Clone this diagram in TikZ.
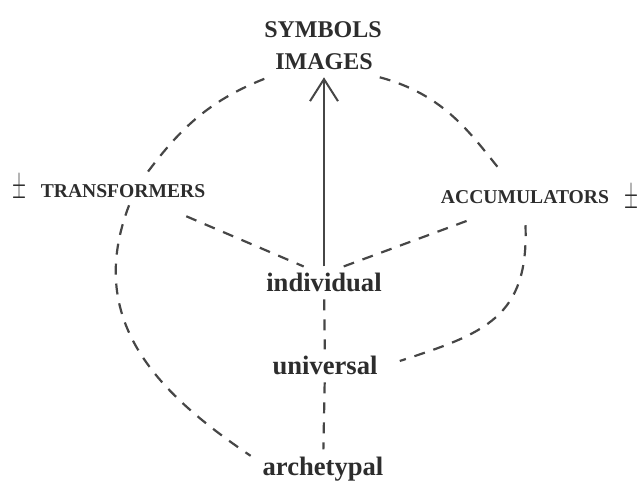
\documentclass[tikz,border=0pt]{standalone}
\usepackage{fontspec}
\setmainfont{Liberation Serif}
\usetikzlibrary{arrows.meta, positioning}
\definecolor{inkdark}{RGB}{45, 45, 45}
\definecolor{inkline}{RGB}{70, 70, 70}

\begin{document}
\begin{tikzpicture}[
    x=0.5pt, y=0.5pt,
    toplabel/.style={font=\fontsize{12}{14}\selectfont\bfseries, text=inkdark, anchor=base},
    pole/.style={font=\fontsize{9.8}{11}\selectfont\bfseries, text=inkdark, anchor=base},
    level/.style={font=\fontsize{13.3}{15}\selectfont\bfseries, text=inkdark, anchor=base},
    sign/.style={font=\fontsize{13}{15}\selectfont, text=inkdark, inner sep=0pt},
    cycle/.style={dashed, dash pattern=on 5.5pt off 4.5pt, line width=1.1pt, inkline},
    arrow/.style={-{Straight Barb[length=11pt, width=14pt, line width=1pt]}, line width=1pt, inkline},
  ]
  \useasboundingbox (0,0) rectangle (637,482);

  % Top
  \node[toplabel] (images) at (324,412) {IMAGES};
  \node[toplabel] (symbols) at (323,444) {SYMBOLS};

  % Poles
  \node[pole] (trans) at (123,284) {TRANSFORMERS};
  \node[pole] (accum) at (525,278) {ACCUMULATORS};
  \node[sign] (pmleft) at (19,293) {\scalebox{0.75}[1.6]{$\pm$}};
  \node[sign] (pmright) at (631,283) {\scalebox{0.75}[1.6]{$\pm$}};

  % Levels
  \node[level] (indiv) at (324,190) {individual};
  \node[level] (univ) at (325,107) {universal};
  \node[level] (arch) at (323,7) {archetypal};

  % Arrow
  \draw[arrow] (indiv.north) -- (images.south);

  % Cycle
  \draw[cycle, shorten <=4pt] (trans.34) to[out=53, in=201] (images.south west);
  \draw[cycle, shorten >=9pt] (images.south east) to[out=-15, in=129] (accum.135);
  \draw[cycle, shorten >=3pt] (trans.-66) to[out=249, in=146, looseness=1.1] (arch.172);
  \draw[cycle, shorten <=7pt, shorten >=8pt] (accum.south) to[out=272, in=18, looseness=1.3] (univ.east);
  \draw[cycle, shorten <=14pt] (trans.-20) -- (indiv.141);
  \draw[cycle, shorten <=14pt] (accum.203) -- (indiv.40);
  \draw[cycle] (indiv) -- (univ);
  \draw[cycle] (univ) -- (arch);

\end{tikzpicture}
\end{document}
